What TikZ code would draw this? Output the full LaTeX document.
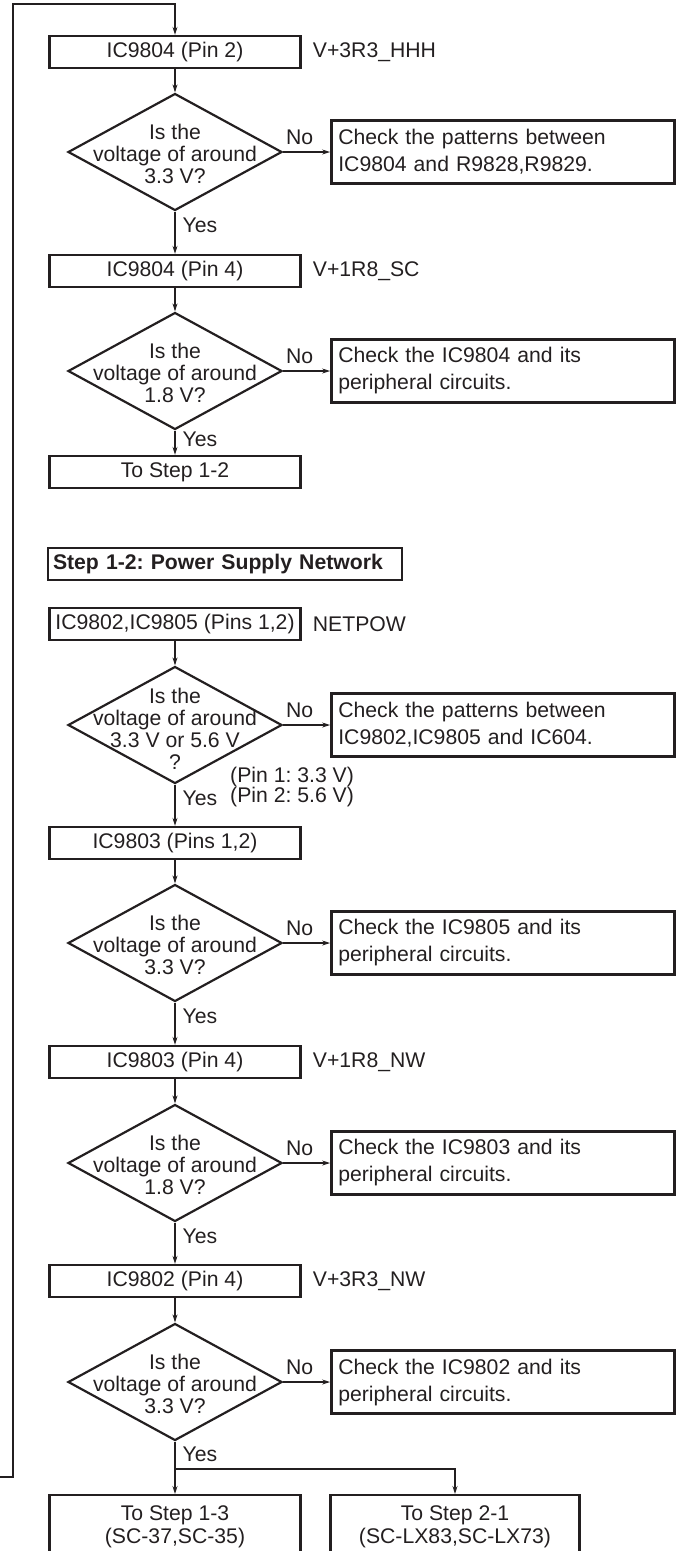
\documentclass[tikz,border=0pt]{standalone}
\usepackage{fontspec}
\setmainfont{Liberation Sans}
\usepackage{xcolor}
\usepackage{tikz}
\usetikzlibrary{positioning, arrows.meta, shapes.geometric}
\definecolor{ink}{HTML}{231F20}
\newcommand{\flowsize}{\fontsize{21.2}{22}\selectfont}
\frenchspacing

\begin{document}
\begin{tikzpicture}[x=1pt, y=-1pt, font=\flowsize, color=ink,
  stepbox/.style={draw, line width=2.4pt, minimum width=251pt, minimum height=32pt, inner sep=2pt},
  decision/.style={draw, line width=2.2pt, diamond, minimum width=214pt, minimum height=117pt, inner sep=0pt},
  question/.style={align=center, inner sep=0pt},
  checkbox/.style={draw, line width=2.4pt, text width=329pt, inner xsep=7pt, minimum height=63pt, align=left, font=\fontsize{21.2}{27}\selectfont},
  netlabel/.style={inner sep=0pt},
  flow/.style={line width=1.1pt, -{Stealth[length=8pt, width=5pt]}},
  yes/.style={anchor=west, inner sep=0pt, xshift=7pt},
  no/.style={anchor=south, inner sep=0pt, yshift=7pt, pos=0.35}]
  \clip (0,0) rectangle (680,1551);
  \coordinate (loopin) at (-5,1477);
  \coordinate (looptop) at (13,4);
  % step 1-1, continued
  \node (icpin2) [stepbox] at (175,52) {IC9804 (Pin 2)};
  \node (hhh) [netlabel, right=11pt of icpin2] {V+3R3\_HHH};
  \node (volt1) [decision] at (175,152) {};
  \node (ask1) [question] at (175,154) {Is the\\voltage of around\\3.3 V?};
  \node (check1) [checkbox, right=47pt of volt1] {Check the patterns between\\IC9804 and R9828,R9829.};
  \node (icpin4) [stepbox] at (175,271) {IC9804 (Pin 4)};
  \node (sc) [netlabel, right=11pt of icpin4] {V+1R8\_SC};
  \node (volt2) [decision] at (175,371) {};
  \node (ask2) [question] at (175,373) {Is the\\voltage of around\\1.8 V?};
  \node (check2) [checkbox, right=47pt of volt2] {Check the IC9804 and its\\peripheral circuits.};
  \node (tostep12) [stepbox] at (175,472) {To Step 1-2};
  % step 1-2
  \node (title) [draw, line width=2.4pt, text width=344pt, inner xsep=5pt, minimum height=32pt, align=left, font=\flowsize\bfseries] at (225,564) {Step 1-2: Power Supply Network};
  \node (ic02pins) [stepbox] at (175,624) {IC9802,IC9805 (Pins 1,2)};
  \node (netpow) [netlabel, right=11pt of ic02pins] {NETPOW};
  \node (volt3) [decision] at (175,725) {};
  \node (ask3) [question] at (175,729) {Is the\\voltage of around\\3.3 V or 5.6 V\\?};
  \node (check3) [checkbox, right=47pt of volt3] {Check the patterns between\\IC9802,IC9805 and IC604.};
  \node (pins) [netlabel, anchor=west, align=left, font=\fontsize{21.2}{20}\selectfont] at (230,787) {(Pin 1: 3.3 V)\\(Pin 2: 5.6 V)};
  \node (ic03pins) [stepbox] at (175,843) {IC9803 (Pins 1,2)};
  \node (volt4) [decision] at (175,943) {};
  \node (ask4) [question] at (175,945) {Is the\\voltage of around\\3.3 V?};
  \node (check4) [checkbox, right=47pt of volt4] {Check the IC9805 and its\\peripheral circuits.};
  \node (ic03pin4) [stepbox] at (175,1062) {IC9803 (Pin 4)};
  \node (nw18) [netlabel, right=11pt of ic03pin4] {V+1R8\_NW};
  \node (volt5) [decision] at (175,1163) {};
  \node (ask5) [question] at (175,1165) {Is the\\voltage of around\\1.8 V?};
  \node (check5) [checkbox, right=47pt of volt5] {Check the IC9803 and its\\peripheral circuits.};
  \node (ic02pin4) [stepbox] at (175,1281) {IC9802 (Pin 4)};
  \node (nw33) [netlabel, right=11pt of ic02pin4] {V+3R3\_NW};
  \node (volt6) [decision] at (175,1382) {};
  \node (ask6) [question] at (175,1384) {Is the\\voltage of around\\3.3 V?};
  \node (check6) [checkbox, right=47pt of volt6] {Check the IC9802 and its\\peripheral circuits.};
  \coordinate (split) at (175,1469);
  \node (tostep13) [stepbox, anchor=north, minimum height=64pt, align=center, font=\fontsize{21.2}{23}\selectfont] at (175,1494) {To Step 1-3\\(SC-37,SC-35)};
  \node (tostep21) [stepbox, anchor=north, minimum width=249pt, minimum height=64pt, align=center, font=\fontsize{21.2}{23}\selectfont] at (455,1494) {To Step 2-1\\(SC-LX83,SC-LX73)};
  % connectors
  \draw[flow] (loopin) -| (looptop) -| (icpin2.north);
  \draw[flow] (icpin2) -- (volt1);
  \draw[flow] (volt1) -- node[no] (no1) {No} (check1);
  \draw[flow] (volt1) -- node[yes, pos=0.33] (yes1) {Yes} (icpin4);
  \draw[flow] (icpin4) -- (volt2);
  \draw[flow] (volt2) -- node[no] (no2) {No} (check2);
  \draw[flow] (volt2) -- node[yes, pos=0.35] (yes2) {Yes} (tostep12);
  \draw[flow] (ic02pins) -- (volt3);
  \draw[flow] (volt3) -- node[no] (no3) {No} (check3);
  \draw[flow] (volt3) -- node[yes, pos=0.33] (yes3) {Yes} (ic03pins);
  \draw[flow] (ic03pins) -- (volt4);
  \draw[flow] (volt4) -- node[no] (no4) {No} (check4);
  \draw[flow] (volt4) -- node[yes, pos=0.33] (yes4) {Yes} (ic03pin4);
  \draw[flow] (ic03pin4) -- (volt5);
  \draw[flow] (volt5) -- node[no] (no5) {No} (check5);
  \draw[flow] (volt5) -- node[yes, pos=0.33] (yes5) {Yes} (ic02pin4);
  \draw[flow] (ic02pin4) -- (volt6);
  \draw[flow] (volt6) -- node[no] (no6) {No} (check6);
  \draw[flow] (volt6) -- node[yes, pos=0.45] (yes6) {Yes} (split) -- (tostep13.north);
  \draw[flow] (split) -| (tostep21.north);
\end{tikzpicture}
\end{document}
